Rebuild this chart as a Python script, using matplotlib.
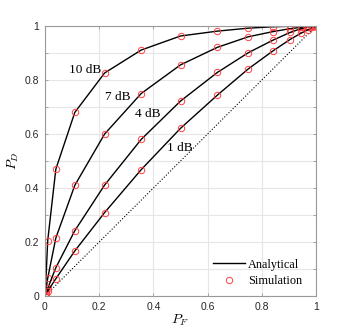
import matplotlib
matplotlib.use('Agg')
import matplotlib.pyplot as plt
from matplotlib.lines import Line2D

plt.rcParams['mathtext.fontset'] = 'cm'
plt.rcParams['font.family'] = 'Liberation Sans'

# false alarm probabilities (same grid for analytical and simulated)
pf = [0, 0.002, 0.01, 0.04, 0.11, 0.22, 0.355, 0.5, 0.636, 0.75, 0.84,
      0.904, 0.944, 0.97, 0.987, 0.996, 1.0]

snr_labels = ['10 dB', '7 dB', '4 dB', '1 dB']
pd_10 = [0, 0.03, 0.205, 0.47, 0.68, 0.826, 0.911, 0.963, 0.981, 0.992, 0.997,
         0.999, 1.0, 1.0, 1.0, 1.0, 1.0]
pd_7 = [0, 0.012, 0.066, 0.215, 0.41, 0.6, 0.75, 0.856, 0.921, 0.96, 0.979,
        0.99, 0.995, 0.998, 0.999, 1.0, 1.0]
pd_4 = [0, 0.006, 0.028, 0.105, 0.242, 0.411, 0.58, 0.722, 0.828, 0.901, 0.947,
        0.976, 0.99, 0.996, 0.999, 1.0, 1.0]
pd_1 = [0, 0.004, 0.018, 0.064, 0.167, 0.309, 0.468, 0.621, 0.744, 0.841, 0.907,
        0.95, 0.973, 0.986, 0.995, 0.999, 1.0]
curves = [pd_10, pd_7, pd_4, pd_1]

# label anchor points (PF, PD)
label_pos = [(0.148, 0.837), (0.27, 0.738), (0.378, 0.673), (0.497, 0.549)]

red = '#ff4040'

fig = plt.figure(figsize=(3.49, 3.34), dpi=100)
ax = fig.add_axes([45/349, 38/334, 271/349, 270/334])

ax.plot([0, 1], [0, 1], ':', color='k', lw=0.8)
for pd in curves:
    ax.plot(pf, pd, '-', color='k', lw=1.0)
    ax.plot(pf, pd, 'o', mfc='none', mec=red, mew=0.7, ms=4.6, ls='none')

for txt, (x, y) in zip(snr_labels, label_pos):
    ax.text(x, y, txt, ha='center', va='center', fontsize=9.5,
            family='Liberation Serif')

ax.set_xlim(0, 1)
ax.set_ylim(0, 1)
ax.set_xticks([0, 0.2, 0.4, 0.6, 0.8, 1])
ax.set_xticklabels(['0', '0.2', '0.4', '0.6', '0.8', '1'])
yt = [i / 10 for i in range(11)]
ax.set_yticks(yt)
ax.set_yticklabels(['0', '', '0.2', '', '0.4', '', '0.6', '', '0.8', '', '1'])
ax.grid(True, color='#e6e6e6', lw=0.8)
ax.set_axisbelow(True)
ax.tick_params(direction='in', top=True, right=True, length=2.5, width=0.6,
               colors='#999999', labelcolor='#262626', labelsize=7.5, pad=4)
for s in ax.spines.values():
    s.set_color('#999999')
    s.set_linewidth(0.8)

ax.set_xlabel('$P_F$', fontsize=10, labelpad=1)
ax.set_ylabel('$P_D$', fontsize=10, labelpad=3)

handles = [Line2D([], [], color='k', lw=1.0),
           Line2D([], [], marker='o', ls='none', mfc='none', mec=red, mew=0.7, ms=4.6)]
leg = ax.legend(handles, ['Analytical', 'Simulation'], loc='lower right',
                bbox_to_anchor=(1.0, -0.018),
                frameon=False, handlelength=2.6, handletextpad=0.25,
                labelspacing=0.35, borderaxespad=0.75,
                prop={'family': 'Liberation Serif', 'size': 8.8})

fig.savefig('out.png', dpi=100)
